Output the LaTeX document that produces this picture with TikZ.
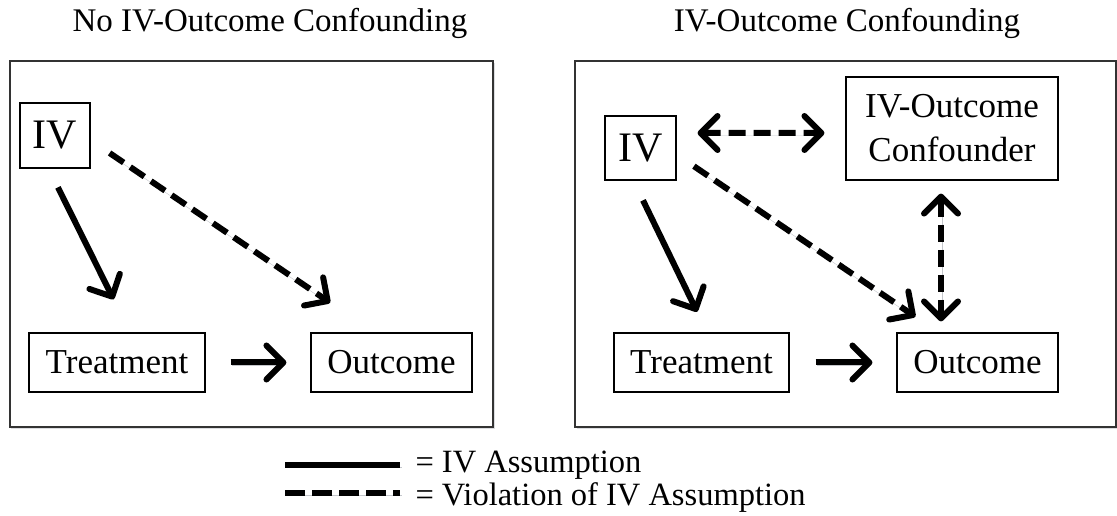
\documentclass[tikz,border=0pt]{standalone}
\usepackage{fontspec}
\setmainfont{Liberation Serif}
\usetikzlibrary{arrows.meta, positioning, calc, shadows}
\definecolor{clrInk}{HTML}{000000}
\definecolor{clrFrame}{HTML}{333333}
\definecolor{clrShade}{HTML}{8A8F99}
\tikzset{
  panel box/.style={rectangle, draw=clrFrame, line width=1.4bp, fill=white, inner sep=0pt, drop shadow={shadow xshift=1.5bp, shadow yshift=-2bp, opacity=0.3, fill=clrShade}},
  var box/.style={rectangle, draw=clrInk, line width=1.1bp, fill=white, inner sep=0pt, align=center, font=\fontsize{35bp}{44bp}\selectfont},
  iv box/.style={var box, font=\fontsize{42bp}{48bp}\selectfont},
  title/.style={anchor=base, font=\fontsize{33bp}{38bp}\selectfont},
  key text/.style={anchor=base west, font=\fontsize{32.5bp}{38bp}\selectfont},
  soft shadow/.style={preaction={draw=clrShade, opacity=0.5, transform canvas={shift={(1.5bp,-2.5bp)}}}},
  arr/.style={line width=6bp, -{Straight Barb[length=17bp, width=34bp, round]}, soft shadow},
  darr/.style={arr, dash pattern=on 17bp off 8bp},
  ddarr/.style={darr, {Straight Barb[length=17bp, width=34bp, round]}-{Straight Barb[length=17bp, width=34bp, round]}},
}

\begin{document}
\begin{tikzpicture}[x=1bp, y=-1bp]
  \useasboundingbox (0,0) rectangle (1117,516);

  % Panels
  \node[panel box, minimum width=483bp, minimum height=366bp] (panA) at (251.5,244) {};
  \node[panel box, minimum width=541bp, minimum height=366bp] (panB) at (845.5,244) {};
  \node[title] (ttlA) at (270,32) {No IV-Outcome Confounding};
  \node[title] (ttlB) at (847,32) {IV-Outcome Confounding};

  % No confounding
  \node[iv box, minimum width=70bp, minimum height=65bp] (ivA) at (55,135.5) {IV};
  \node[var box, minimum width=176bp, minimum height=59bp] (trtA) at (117,362.5) {Treatment};
  \node[var box, minimum width=161bp, minimum height=59bp] (outA) at (391.5,362.5) {Outcome};

  \draw[arr, shorten <=21bp, shorten >=37bp] ($(ivA.south)+(-6.4,0)$) -- ($(trtA.north)+(13,0)$);
  \draw[darr, shorten <=23bp, shorten >=53bp] ($(ivA.east)+(0,4.6)$) -- ($(outA.north)+(-17.5,0)$);
  \draw[arr, shorten <=25bp, shorten >=24bp] (trtA) -- (outA);

  % Confounding
  \node[iv box, minimum width=71bp, minimum height=64bp] (ivB) at (640.5,148) {IV};
  \node[var box, minimum width=212bp, minimum height=103bp] (confB) at (952,128.5) {IV-Outcome\\Confounder};
  \node[var box, minimum width=175bp, minimum height=59bp] (trtB) at (701.5,362.5) {Treatment};
  \node[var box, minimum width=161bp, minimum height=59bp] (outB) at (977.5,362.5) {Outcome};

  \draw[arr, shorten <=22bp, shorten >=23bp] ($(ivB.south)+(-7.1,0)$) -- ($(trtB.north)+(5.6,0)$);
  \draw[darr, shorten <=21bp, shorten >=28bp] ($(ivB.east)+(0,6.4)$) -- ($(outB.north)+(-39,0)$);
  \draw[ddarr, shorten <=21bp, shorten >=21bp] ($(ivB.east)+(0,-15)$) -- ($(confB.west)+(0,4.5)$);
  \draw[ddarr, shorten <=13bp, shorten >=11bp] ($(confB.south)+(-11,0)$) -- ($(outB.north)+(-36.5,0)$);
  \draw[arr, shorten <=26bp, shorten >=24bp] (trtB) -- (outB);

  % Key
  \node[key text] (keyA) at (412,472) {= IV Assumption};
  \node[key text] (keyB) at (412,505) {= Violation of IV Assumption};
  \coordinate (solidL) at (285,465);
  \coordinate (solidR) at (400,465);
  \coordinate (dashL) at (285,493);
  \coordinate (dashR) at (400,493);
  \draw[line width=6bp, soft shadow] (solidL) -- (solidR);
  \draw[line width=6bp, dash pattern=on 20bp off 7bp, soft shadow] (dashL) -- (dashR);
\end{tikzpicture}
\end{document}
